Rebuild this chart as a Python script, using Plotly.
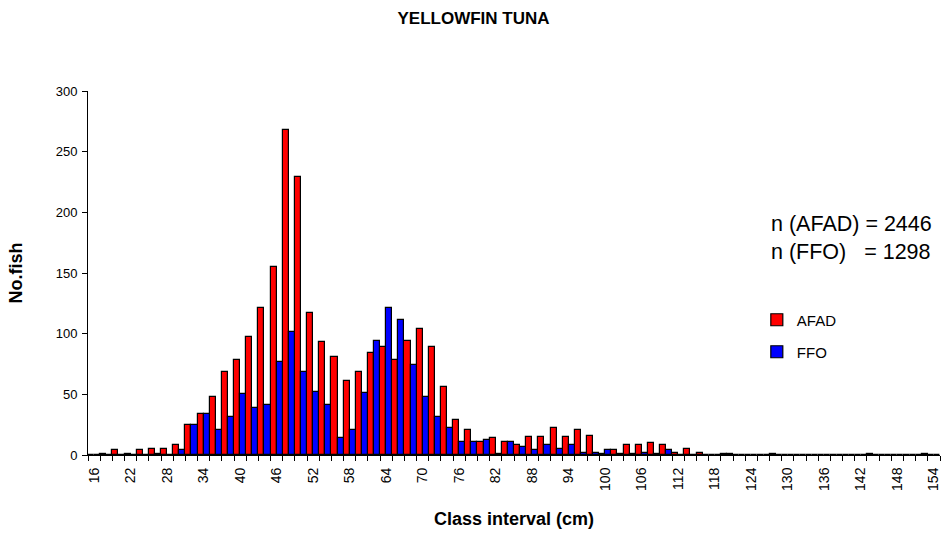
import plotly.graph_objects as go

# Class intervals (cm)
classes = list(range(16, 156, 2))

afad = [0, 1, 4, 1, 4, 5, 5, 8, 25, 34,
        48, 68, 78, 97, 121, 155, 268, 229, 117, 93,
        81, 61, 68, 84, 89, 78, 94, 104, 89, 56,
        29, 21, 11, 14, 11, 8, 15, 15, 22, 15,
        21, 16, 1, 4, 8, 8, 10, 8, 2, 5,
        2, 0, 1, 0, 0, 0, 1, 0, 0, 0,
        0, 0, 0, 0, 1, 0, 0, 0, 0, 0]

ffo = [0, 0, 0, 0, 0, 1, 0, 4, 25, 34,
       21, 31, 50, 39, 41, 77, 101, 68, 52, 41,
       14, 21, 51, 94, 121, 111, 74, 48, 31, 22,
       11, 11, 12, 1, 11, 7, 4, 8, 5, 8,
       2, 2, 4, 1, 1, 2, 1, 4, 0, 0,
       0, 0, 1, 0, 0, 0, 0, 0, 0, 0,
       0, 0, 0, 0, 0, 0, 0, 0, 1, 0]

tick_labels = [str(c) for c in classes[::3]]
tick_vals = classes[::3]
boundaries = [c - 1 for c in classes] + [classes[-1] + 1]

FONT = "Arial, Liberation Sans, sans-serif"

fig = go.Figure()
fig.add_trace(go.Bar(x=classes, y=afad, name="AFAD",
                     marker=dict(color="#FF0000", line=dict(color="#000000", width=1.2)),
                     legend="legend", showlegend=True))
fig.add_trace(go.Bar(x=classes, y=ffo, name="FFO",
                     marker=dict(color="#0000FF", line=dict(color="#000000", width=1.2)),
                     legend="legend2", showlegend=True))

fig.update_layout(
    width=947, height=537,
    margin=dict(l=88, r=7, t=91, b=82),
    paper_bgcolor="white", plot_bgcolor="white",
    showlegend=True,
    barmode="group", bargap=0, bargroupgap=0,
    font=dict(family=FONT, color="black"),
    title=dict(text="<b>YELLOWFIN TUNA</b>", x=0.5, xanchor="center",
               y=1 - 18 / 537, yanchor="middle", yref="container",
               font=dict(size=17, family=FONT)),
    xaxis=dict(range=[classes[0] - 1, classes[-1] + 1],
               tickmode="array", tickvals=tick_vals, ticktext=tick_labels,
               tickangle=-90, ticks="outside", ticklen=6, tickcolor="rgba(0,0,0,0)",
               tickfont=dict(size=14),
               minor=dict(tickmode="array", tickvals=boundaries, ticks="outside",
                          ticklen=5, tickcolor="black", tickwidth=1),
               showline=True, linecolor="black", linewidth=1,
               showgrid=False, zeroline=False, automargin=False,
               title=dict(text="<b>Class interval (cm)</b>", font=dict(size=18), standoff=22)),
    yaxis=dict(range=[0, 300], dtick=50, ticks="outside", ticklen=5,
               tickcolor="black", tickfont=dict(size=13), ticklabelstandoff=2,
               showline=True, linecolor="black", linewidth=1,
               showgrid=False, zeroline=False, automargin=False,
               title=dict(text="<b>No.fish</b>", font=dict(size=18), standoff=28)),
    legend=dict(x=0.785, y=(455 - 320) / 364, xanchor="left", yanchor="middle",
                bgcolor="rgba(0,0,0,0)", font=dict(size=15)),
    legend2=dict(x=0.785, y=(455 - 352) / 364, xanchor="left", yanchor="middle",
                 bgcolor="rgba(0,0,0,0)", font=dict(size=15)),
)

fig.add_annotation(text="n (AFAD) = 2446", xref="paper", yref="paper",
                   x=(769 - 88) / 852, y=(455 - 224) / 364, xanchor="left", yanchor="middle",
                   showarrow=False, font=dict(size=21.5, family=FONT))
fig.add_annotation(text="n (FFO)\u00a0\u00a0\u00a0= 1298", xref="paper", yref="paper",
                   x=(769 - 88) / 852, y=(455 - 252) / 364, xanchor="left", yanchor="middle",
                   showarrow=False, font=dict(size=21.5, family=FONT))

fig.write_html("out.html",
               config={"displayModeBar": False},
               post_script="document.body.style.margin='0';document.body.style.overflow='hidden';")
